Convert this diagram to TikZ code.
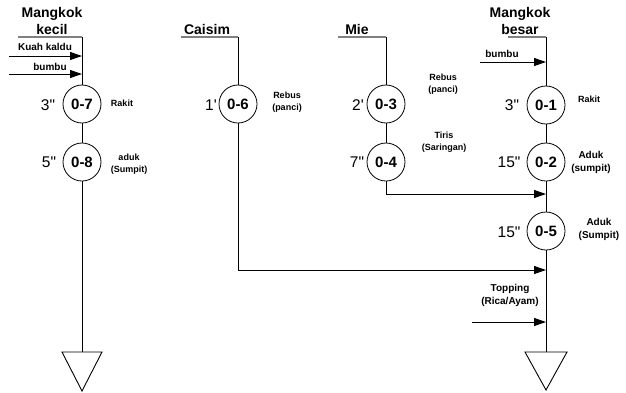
\documentclass[tikz,border=0pt]{standalone}
\usepackage{fontspec}
\setmainfont{Liberation Sans}[Ligatures=TeXOff]
\usetikzlibrary{arrows.meta}
\begin{document}
\begin{tikzpicture}[x=1pt,y=-1pt,
  op/.style={circle,draw=black,line width=0.8pt,minimum size=38pt,inner sep=0pt,font=\bfseries\fontsize{15}{15}\selectfont},
  hdr/.style={font=\bfseries\fontsize{14}{17}\selectfont,align=center,inner sep=0pt},
  tm/.style={font=\fontsize{15.5}{15}\selectfont,inner sep=0pt},
  ann/.style={font=\bfseries\fontsize{9}{11.5}\selectfont,align=center,inner sep=0pt},
  annb/.style={font=\bfseries\fontsize{10}{13}\selectfont,align=center,inner sep=0pt},
  hline/.style={draw=gray,line width=2pt},
  flow/.style={draw=black,line width=0.9pt},
  arr/.style={flow,-{Triangle[length=12pt,width=8pt]}},
  tri/.style={draw=black,line width=0.9pt,fill=white}]
\useasboundingbox (0,0) rectangle (626,392);

% ---------- left column: Mangkok kecil ----------
\node[hdr] (hk) at (52,21) {Mangkok\\kecil};
\coordinate (hkL) at (18,37);
\coordinate (hkR) at (82,37);
\draw[hline] (hkL) -- (hkR);
\node[op] (c7) at (82,104) {0-7};
\node[op] (c8) at (82,162) {0-8};
\coordinate (kt) at (82,352);
\draw[flow] (hkR) -- (c7.north);
\draw[flow] (c7.south) -- (c8.north);
\draw[flow] (c8.south) -- (kt);
\draw[tri] (62,352) -- (102,352) -- (82,391) -- cycle;
\coordinate (kaS) at (9,56);
\coordinate (kaE) at (82,56);
\coordinate (kbS) at (9,74);
\coordinate (kbE) at (82,74);
\draw[arr] (kaS) -- (kaE);
\draw[arr] (kbS) -- (kbE);
\node[annb] (tka) at (45,47) {Kuah kaldu};
\node[annb] (tkb) at (50,67) {bumbu};
\node[tm] (t7) at (48,105) {3"};
\node[tm] (t8) at (49,162) {5"};
\node[ann] (a7) at (122,103) {Rakit};
\node[ann] (a8) at (129,164) {aduk\\(Sumpit)};

% ---------- Caisim ----------
\node[hdr] (hc) at (207,29) {Caisim};
\coordinate (hcL) at (181,37);
\coordinate (hcR) at (238,37);
\draw[hline] (hcL) -- (hcR);
\node[op] (c6) at (238,104) {0-6};
\draw[flow] (hcR) -- (c6.north);
\node[tm] (t6) at (211,105) {1'};
\node[ann] (a6) at (287,102) {Rebus\\(panci)};

% ---------- Mie ----------
\node[hdr] (hm) at (357,29) {Mie};
\coordinate (hmL) at (338,37);
\coordinate (hmR) at (386,37);
\draw[hline] (hmL) -- (hmR);
\node[op] (c3) at (386,104) {0-3};
\node[op] (c4) at (386,162) {0-4};
\draw[flow] (hmR) -- (c3.north);
\draw[flow] (c3.south) -- (c4.north);
\node[tm] (t3) at (358,105) {2'};
\node[tm] (t4) at (357,162) {7"};
\node[ann] (a3) at (443,84) {Rebus\\(panci)};
\node[ann] (a4) at (444,142) {Tiris\\(Saringan)};

% ---------- right column: Mangkok besar ----------
\node[hdr] (hb) at (520,21) {Mangkok\\besar};
\coordinate (hbL) at (508,37);
\coordinate (hbR) at (546,37);
\draw[hline] (hbL) -- (hbR);
\node[op] (c1) at (546,105) {0-1};
\node[op] (c2) at (546,162) {0-2};
\node[op] (c5) at (546,231) {0-5};
\coordinate (bt) at (546,352);
\draw[flow] (hbR) -- (c1.north);
\draw[flow] (c1.south) -- (c2.north);
\draw[flow] (c2.south) -- (c5.north);
\draw[flow] (c5.south) -- (bt);
\draw[tri] (525,352) -- (567,352) -- (546,390) -- cycle;
\coordinate (bbS) at (480,62);
\coordinate (bbE) at (546,62);
\draw[arr] (bbS) -- (bbE);
\node[annb] (tbb) at (502,54) {bumbu};
\node[tm] (t1) at (512,105) {3"};
\node[tm] (t2) at (509,162) {15"};
\node[tm] (t5) at (509,232) {15"};
\node[ann] (a1) at (589,99) {Rakit};
\node[annb] (a2) at (591,162) {Aduk\\(sumpit)};
\node[annb] (a5) at (599,229) {Aduk\\(Sumpit)};

% ---------- joins ----------
\coordinate (mieE) at (546,194);
\coordinate (caiE) at (546,270);
\draw[arr] (c4.south) |- (mieE);
\draw[arr] (c6.south) |- (caiE);
\coordinate (tpS) at (472,322);
\coordinate (tpE) at (546,322);
\draw[arr] (tpS) -- (tpE);
\node[annb] (tp) at (510,295) {Topping\\(Rica/Ayam)};
\end{tikzpicture}
\end{document}
